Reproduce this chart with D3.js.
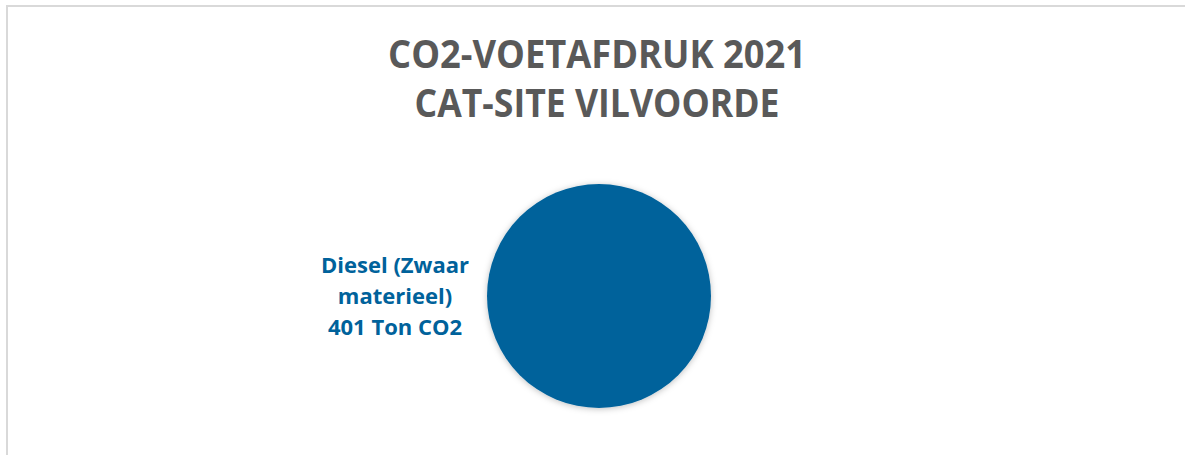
<!DOCTYPE html>
<html lang="en">
    <head>
        <meta charset="utf-8">
        <title>CO2-voetafdruk 2021</title>
        <script src="https://d3js.org/d3.v7.min.js"></script>
        <style type="text/css">
            body {
              margin: 0;
              background: white;
            }
            .title {
              font-family: "Open Sans", "Liberation Sans", sans-serif;
              font-weight: bold;
              fill: #595959;
            }
            .label {
              font-family: "Open Sans", "Liberation Sans", sans-serif;
              font-weight: bold;
              fill: #00629b;
            }
        </style>
    </head>
    <body>
        <div id="chart"></div>
        <script type="text/javascript">

        //DATA
            const categories = ["Diesel (Zwaar materieel)"];
            const values = [401];
            const unit = "Ton CO2";
            const titleLines = ["CO2-VOETAFDRUK 2021", "CAT-SITE VILVOORDE"];
            const colors = ["#00629b"];

        //CONSTANTS
            const w = 1185;
            const h = 455;
            const cx = 599;
            const cy = 296;
            const radius = 112;
            const titleWidths = [418, 365]; // to mimic the narrower original font

            const data = categories.map((c, i) => ({"cat": c, "value": values[i]}));

            const svg = d3.select("#chart")
                    .append("svg")
                    .attr("width", w)
                    .attr("height", h);

            //SHADOW FILTER
            const defs = svg.append("defs");
            const filter = defs.append("filter")
                .attr("id", "shadow")
                .attr("x", "-20%").attr("y", "-20%")
                .attr("width", "140%").attr("height", "140%");
            filter.append("feDropShadow")
                .attr("dx", 0).attr("dy", 1)
                .attr("stdDeviation", 3)
                .attr("flood-color", "#000")
                .attr("flood-opacity", 0.25);

            //FRAME
            svg.append("rect")
                .attr("x", 7)
                .attr("y", 6)
                .attr("width", w + 10)
                .attr("height", h + 10)
                .attr("fill", "white")
                .attr("stroke", "#d9d9d9")
                .attr("stroke-width", 2);

            //TITLE
            svg.selectAll(".title")
                .data(titleLines)
                .enter()
                .append("text")
                .attr("class", "title")
                .attr("x", 597)
                .attr("y", (d, i) => 68 + i * 49)
                .attr("text-anchor", "middle")
                .attr("font-size", 39)
                .attr("textLength", (d, i) => titleWidths[i])
                .attr("lengthAdjust", "spacingAndGlyphs")
                .text(d => d);

            //PIE
            const pie = d3.pie().sort(null).value(d => d.value);
            const arc = d3.arc().innerRadius(0).outerRadius(radius);
            const color = d3.scaleOrdinal().domain(categories).range(colors);

            const g = svg.append("g")
                .attr("transform", "translate(" + cx + "," + cy + ")");

            g.selectAll("path")
                .data(pie(data))
                .enter()
                .append("path")
                .attr("d", arc)
                .attr("fill", d => color(d.data.cat))
                .attr("filter", "url(#shadow)");

            //LABEL
            const labelLines = d => ["Diesel (Zwaar", "materieel)", d.value + " " + unit];
            const label = svg.selectAll(".label")
                .data(data)
                .enter()
                .append("text")
                .attr("class", "label")
                .attr("text-anchor", "middle")
                .attr("font-size", 22);

            label.selectAll("tspan")
                .data(d => labelLines(d))
                .enter()
                .append("tspan")
                .attr("x", 395)
                .attr("y", (d, i) => 273 + i * 31)
                .text(d => d);
        </script>
    </body>
</html>
